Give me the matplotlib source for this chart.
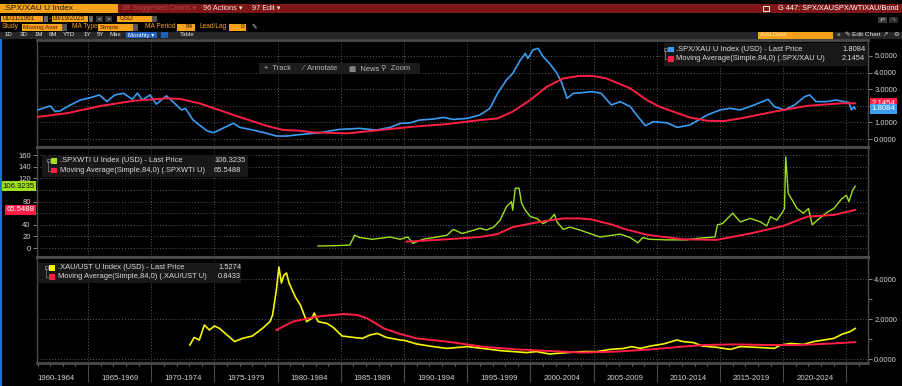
import numpy as np  # для сеток и тиков
import matplotlib.pyplot as plt  # для построения графиков
import matplotlib.transforms as mtrans
from matplotlib.patches import Rectangle

plt.rcParams['font.family'] = ['Liberation Sans', 'DejaVu Sans']

# значения (год в долях года, значение ряда)
spxXauYears = [1961.0, 1962.0, 1962.4, 1962.8, 1963.6, 1964.4, 1965.1, 1965.9, 1966.5, 1967.1,
               1967.8, 1968.5, 1968.9, 1969.3, 1969.9, 1970.4, 1971.2, 1971.7, 1972.4, 1972.7,
               1973.3, 1973.8, 1974.4, 1974.9, 1975.4, 1976.5, 1977.0, 1978.0, 1979.1, 1979.9,
               1980.7, 1981.8, 1983.3, 1984.9, 1986.5, 1987.8, 1988.9, 1989.7, 1990.5, 1991.2,
               1992.3, 1993.1, 1993.9, 1995.0, 1996.0, 1996.8, 1997.4, 1998.1, 1998.6, 1999.2,
               1999.6, 1999.8, 2000.2, 2000.6, 2001.0, 2001.5, 2002.1, 2002.5, 2002.9, 2003.4,
               2004.1, 2004.9, 2005.6, 2006.4, 2007.1, 2007.9, 2008.4, 2009.1, 2009.7, 2010.8,
               2011.6, 2012.6, 2013.3, 2014.0, 2015.0, 2015.8, 2016.6, 2017.7, 2018.8, 2019.3,
               2020.1, 2020.9, 2021.7, 2022.1, 2022.6, 2023.4, 2024.2, 2024.8, 2025.2, 2025.4,
               2025.6, 2025.7]
spxXau = [1.75, 1.99, 1.65, 1.70, 2.05, 2.35, 2.47, 2.65, 2.25, 2.65,
          2.75, 2.40, 2.76, 2.35, 2.65, 2.10, 2.60, 2.25, 1.75, 1.85,
          1.15, 0.85, 0.50, 0.38, 0.55, 0.95, 0.70, 0.55, 0.35, 0.18,
          0.18, 0.27, 0.38, 0.58, 0.64, 0.54, 0.70, 0.94, 0.98, 1.14,
          1.20, 1.30, 1.18, 1.24, 1.45, 1.85, 2.75, 3.55, 3.95, 4.75,
          5.15, 4.85, 5.36, 5.46, 4.96, 4.56, 3.96, 3.35, 2.45, 2.75,
          2.79, 2.85, 2.75, 2.05, 2.25, 1.95, 1.45, 0.80, 1.04, 0.98,
          0.70, 0.84, 1.14, 1.45, 1.75, 1.85, 1.75, 2.05, 2.39, 1.95,
          1.75, 2.05, 2.55, 2.65, 2.25, 2.25, 2.35, 2.25, 2.20, 1.75,
          1.95, 1.8084]

spxXauMaYears = [1961.0, 1963.3, 1966.0, 1968.6, 1971.2, 1972.3, 1973.8, 1976.5, 1979.1, 1980.4,
                 1981.8, 1982.8, 1985.5, 1988.1, 1990.7, 1993.4, 1996.0, 1997.4, 1998.6, 2000.0,
                 2001.3, 2002.6, 2003.9, 2004.9, 2006.0, 2007.9, 2009.2, 2010.2, 2011.3, 2012.6,
                 2014.0, 2015.3, 2016.6, 2019.3, 2021.9, 2024.6, 2025.7]
spxXauMa = [1.33, 1.55, 1.99, 2.30, 2.45, 2.41, 2.15, 1.45, 0.80, 0.55,
            0.50, 0.40, 0.34, 0.54, 0.74, 0.90, 1.14, 1.24, 1.65, 2.35,
            3.15, 3.65, 3.80, 3.80, 3.65, 3.05, 2.35, 1.95, 1.65, 1.30,
            1.10, 1.08, 1.24, 1.65, 2.00, 2.15, 2.1454]

spxWtiYears = [1983.2, 1984.5, 1985.7, 1986.1, 1986.5, 1987.5, 1988.9, 1989.7, 1990.3, 1990.7,
               1991.5, 1992.6, 1993.4, 1993.9, 1994.6, 1995.4, 1996.0, 1996.5, 1997.1, 1997.6,
               1998.1, 1998.5, 1998.6, 1998.8, 1999.1, 1999.3, 1999.6, 2000.0, 2000.5, 2001.0,
               2001.5, 2001.9, 2002.1, 2002.6, 2003.1, 2003.9, 2004.7, 2005.5, 2006.5, 2007.1,
               2007.9, 2008.5, 2008.9, 2009.4, 2010.8, 2012.3, 2013.4, 2014.6, 2014.8, 2015.2,
               2015.6, 2016.0, 2016.6, 2017.4, 2018.2, 2018.7, 2019.0, 2019.5, 2019.9, 2020.1,
               2020.2, 2020.4, 2020.7, 2021.1, 2021.6, 2022.0, 2022.3, 2022.7, 2023.5, 2024.0,
               2024.6, 2025.0, 2025.2, 2025.5, 2025.7]
spxWti = [3.4, 4, 5, 22, 18, 15, 19, 15, 19, 8,
          15, 19, 22, 32, 25, 30, 34, 31, 36, 48,
          71, 80, 65, 103, 103, 77, 65, 54, 51, 42,
          48, 58, 45, 32, 36, 31, 25, 19, 22, 24,
          18, 9, 18, 15, 14, 14, 17, 19, 40, 42,
          51, 60, 45, 51, 45, 38, 54, 48, 60, 68,
          157, 94, 83, 68, 60, 68, 40, 48, 62, 68,
          84, 91, 80, 100, 106.3235]

spxWtiMaYears = [1990.2, 1993.4, 1996.0, 1997.4, 1998.6, 2000.0, 2001.3, 2002.6, 2003.9, 2004.9,
                 2005.6, 2006.5, 2007.4, 2008.3, 2009.2, 2010.2, 2012.1, 2014.7, 2017.4, 2020.0,
                 2021.9, 2024.0, 2025.7]
spxWtiMa = [11, 15, 19, 24, 36, 42, 47, 51, 51, 49,
            45, 40, 33, 28, 23, 20, 15, 14, 25, 38,
            54, 57, 65.5488]

xauUstYears = [1973.05, 1973.4, 1973.8, 1974.2, 1974.6, 1975.0, 1975.4, 1976.0, 1976.6, 1977.2,
               1978.0, 1978.8, 1979.4, 1979.6, 1979.9, 1980.1, 1980.3, 1980.5, 1980.7, 1980.9,
               1981.4, 1981.8, 1982.3, 1982.7, 1982.9, 1983.2, 1983.9, 1984.4, 1985.1, 1986.0,
               1986.7, 1987.3, 1987.9, 1988.6, 1989.7, 1990.1, 1991.0, 1992.3, 1993.4, 1995.0,
               1996.2, 1997.6, 1999.7, 2000.5, 2001.5, 2002.9, 2004.1, 2005.3, 2006.3, 2007.4,
               2008.0, 2008.7, 2009.5, 2010.5, 2011.6, 2012.1, 2012.9, 2013.6, 2014.8, 2015.8,
               2016.6, 2018.0, 2019.3, 2019.8, 2020.6, 2021.6, 2022.4, 2023.2, 2024.0, 2024.7,
               2025.3, 2025.7]
xauUst = [0.70, 1.08, 0.95, 1.70, 1.45, 1.65, 1.53, 1.20, 0.87, 1.03,
          1.15, 1.53, 1.87, 2.20, 3.45, 4.60, 3.80, 4.20, 4.30, 3.80,
          3.10, 2.70, 1.87, 2.03, 2.30, 1.87, 1.78, 1.58, 1.15, 1.08,
          1.03, 1.20, 1.28, 1.08, 0.95, 0.92, 0.75, 0.62, 0.53, 0.62,
          0.53, 0.42, 0.32, 0.37, 0.25, 0.32, 0.37, 0.37, 0.48, 0.53,
          0.62, 0.53, 0.65, 0.75, 0.95, 0.87, 0.82, 0.65, 0.58, 0.48,
          0.62, 0.58, 0.53, 0.70, 0.78, 0.73, 0.87, 0.95, 1.03, 1.25,
          1.37, 1.5274]

xauUstMaYears = [1979.9, 1981.2, 1983.1, 1985.2, 1986.3, 1987.1, 1988.4, 1989.7, 1991.0, 1993.4,
                 1996.2, 1998.9, 2001.5, 2004.1, 2006.8, 2009.5, 2012.1, 2013.7, 2016.1, 2018.8,
                 2021.3, 2024.0, 2025.7]
xauUstMa = [1.45, 1.87, 2.12, 2.25, 2.20, 2.03, 1.53, 1.25, 1.03, 0.87,
            0.62, 0.48, 0.40, 0.32, 0.37, 0.48, 0.62, 0.70, 0.73, 0.70,
            0.70, 0.78, 0.8433]

xLabels = ['1960-1964', '1965-1969', '1970-1974', '1975-1979', '1980-1984', '1985-1989',
           '1990-1994', '1995-1999', '2000-2004', '2005-2009', '2010-2014', '2015-2019',
           '2020-2024']

W, H = 902, 386
ORANGE = '#f7a21b'
BLUE = '#3a9cf2'
RED = '#ff1f45'
GREEN = '#9ee01a'
YELLOW = '#f6f600'
GRID = '#5a5a5a'
LIGHT = '#d2d2d2'


# перевод пиксельного прямоугольника в координаты фигуры
def pxRect(left, top, right, bottom):
    return [left / W, 1 - bottom / H, (right - left) / W, (bottom - top) / H]


fig = plt.figure(figsize=(W / 100, H / 100), dpi=100, facecolor='black')

ax1 = fig.add_axes(pxRect(37, 40, 868, 147))
ax2 = fig.add_axes(pxRect(37, 147, 868, 257))
ax3 = fig.add_axes(pxRect(37, 257, 868, 363))


# общее оформление панели
def styleAxes(ax, ylim):
    ax.set_facecolor('black')
    ax.set_xlim(1960.96, 2026.71)
    ax.set_ylim(*ylim)
    ax.set_xticks(np.arange(1965, 2026, 5))
    ax.grid(True, which='major', color=GRID, ls=(0, (1, 2)), lw=0.7)
    for s in ax.spines.values():
        s.set_color('#4a4a4a')
        s.set_linewidth(1)
    ax.spines['top'].set_linewidth(2)
    ax.spines['bottom'].set_linewidth(2)
    ax.tick_params(axis='x', length=0, labelbottom=False)
    ax.tick_params(axis='y', colors='#9a9a9a', labelcolor=LIGHT, labelsize=5.5,
                   length=3, width=0.6, pad=1.5)


# подписи делений; те, что закрыты ценниками, пустые
def tickLabels(ax, ticks, fmt, hidden):
    ax.set_yticks(ticks)
    ax.set_yticklabels(['' if t in hidden else fmt.format(t) for t in ticks])


# ценник последнего значения у оси
def tag(ax, val, color, textColor, side='right'):
    tr = mtrans.blended_transform_factory(ax.transAxes, ax.transData)
    x, ha = (1.004, 'left') if side == 'right' else (-0.003, 'right')
    ax.text(x, val, f'{val:.4f}', transform=tr, ha=ha, va='center', fontsize=5.6,
            color=textColor, clip_on=False, zorder=6,
            bbox=dict(boxstyle='square,pad=0.2', fc=color, ec='none'))


# верхняя панель: SPX/XAU
styleAxes(ax1, (-0.48, 5.96))
ax1.plot(spxXauYears, spxXau, color=BLUE, lw=1.2, zorder=3)
ax1.plot(spxXauMaYears, spxXauMa, color=RED, lw=1.4, zorder=4)
ax1.yaxis.tick_right()
tickLabels(ax1, [0, 1, 2, 3, 4, 5], '{:.4f}', [2])
tag(ax1, spxXauMa[-1], RED, '#ffffff')
tag(ax1, spxXau[-1], BLUE, '#ffffff')

# средняя панель: SPX/WTI
styleAxes(ax2, (-15.5, 174))
ax2.plot(spxWtiYears, spxWti, color=GREEN, lw=1.0, zorder=3)
ax2.plot(spxWtiMaYears, spxWtiMa, color=RED, lw=1.4, zorder=4)
tickLabels(ax2, [0, 20, 40, 60, 80, 100, 120, 140, 160], '{}', [60, 100])
tag(ax2, spxWti[-1], GREEN, '#111111', side='left')
tag(ax2, spxWtiMa[-1], RED, '#ffffff', side='left')

# нижняя панель: XAU/UST
styleAxes(ax3, (-0.2, 5.1))
ax3.plot(xauUstYears, xauUst, color=YELLOW, lw=1.2, zorder=3)
ax3.plot(xauUstMaYears, xauUstMa, color=RED, lw=1.4, zorder=4)
ax3.yaxis.tick_right()
tickLabels(ax3, [0, 2, 4], '{:.4f}', [])
ax3.set_yticks([1, 3], minor=True)
ax3.tick_params(axis='y', which='minor', colors='#9a9a9a', length=3, width=0.6)
ax3.set_xticks(np.arange(1961, 2027), minor=True)
ax3.tick_params(axis='x', which='major', length=14, color='#4a4a4a', width=0.8)
ax3.tick_params(axis='x', which='minor', length=2, color='#8a8a8a', width=0.6)
trLab = mtrans.blended_transform_factory(ax3.transData, fig.transFigure)
for i, lab in enumerate(xLabels):
    ax3.text(1962.5 + 5 * i, 1 - 378 / H, lab, transform=trLab, ha='center', va='center',
             color=LIGHT, fontsize=5.6, clip_on=False)

# слой интерфейса в пикселях
ov = fig.add_axes([0, 0, 1, 1])
ov.set_xlim(0, W)
ov.set_ylim(H, 0)
ov.axis('off')
ov.set_zorder(10)


def box(x0, y0, x1, y1, color, **kw):
    ov.add_patch(Rectangle((x0, y0), x1 - x0, y1 - y0, facecolor=color, edgecolor='none', **kw))


def txt(x, y, s, color, size=5.0, **kw):
    ov.text(x, y, s, color=color, fontsize=size, va='center', **kw)


# строка 1: заголовок
box(0, 3.5, 118, 13, ORANGE)
txt(3, 8.4, '.SPX/XAU U Index', '#1a1a1a', 6.0)
box(118, 3.5, W, 13, '#7e1616')
txt(122, 8.4, '98 Suggested Charts \u25be', '#b04545', 5.3)
txt(203, 8.4, '96 Actions \u25be', '#f2dede', 5.3)
txt(252, 8.4, '97 Edit \u25be', '#f2dede', 5.3)
ov.add_patch(Rectangle((763, 5.5), 5.5, 5.5, facecolor='none', edgecolor='#f0f0f0', lw=0.7))
txt(899, 8.4, 'G 447: SPX/XAUSPX/WTIXAU/Bond', '#ffffff', 5.3, ha='right')

# строка 2: даты и валюта
box(1, 15.5, 43, 22, ORANGE)
txt(2.5, 18.9, '01/31/1961', '#2a1a00', 4.7)
box(44, 16, 48, 21.5, '#6a6a6a')
txt(48.8, 18.9, '-', ORANGE, 4.7)
box(52, 15.5, 88, 22, ORANGE)
txt(53, 18.9, '09/19/2025', '#2a1a00', 4.7)
box(89, 16, 93, 21.5, '#6a6a6a')
box(96, 16, 103, 21.5, '#333333')
txt(97.8, 18.9, '<', '#e0e0e0', 4.5)
box(105, 16, 112, 21.5, '#333333')
txt(106.8, 18.9, '>', '#e0e0e0', 4.5)
box(117, 15.5, 152, 22, ORANGE)
txt(119, 18.9, 'USD', '#2a1a00', 4.7)
box(152, 15.5, 157, 22, '#555555')
box(878, 16.5, 887, 23, '#3a3a3a')
box(889, 16.5, 898, 23, '#2a2a2a')
txt(879.5, 19.8, '\u21b6', '#d0d0d0', 4.5)
txt(890.5, 19.8, '\u21b7', '#808080', 4.5)

# строка 3: параметры скользящей средней
txt(2, 27, 'Study', ORANGE, 4.8)
box(22, 23.5, 62, 30.5, ORANGE)
txt(23, 27, 'Moving Aver', '#5a1a00', 4.6)
box(62, 23.5, 67, 30.5, '#555555')
txt(72, 27, 'MA Type', ORANGE, 4.8)
box(98, 23.5, 133, 30.5, ORANGE)
txt(100, 27, 'Simple', '#5a1a00', 4.6)
box(133, 23.5, 138, 30.5, '#555555')
txt(145, 27, 'MA Period', ORANGE, 4.8)
box(177, 23.5, 195, 30.5, ORANGE)
txt(193, 27, '84', '#2a1a00', 4.6, ha='right')
txt(199, 27, 'Lead/Lag', ORANGE, 4.8)
box(229, 23.5, 246, 30.5, ORANGE)
txt(244, 27, '0', '#2a1a00', 4.6, ha='right')
txt(251, 27, '\u270e', '#d0d0d0', 4.8)

# строка 4: период и кнопки
box(0, 31.5, W, 38.5, '#262626')
for x, s in [(5, '1D'), (20, '3D'), (35, '1M'), (49, '6M'), (63, 'YTD'),
             (84, '1Y'), (97, '5Y'), (110, 'Max'), (180, 'Table')]:
    txt(x, 35, s, '#e8e8e8', 4.4)
box(126, 32, 157, 38, '#1f5fc0')
txt(128, 35, 'Monthly \u25be', '#ffffff', 4.4)
box(161, 32, 168, 38, '#1f5fc0')
box(758, 32, 833, 38.5, ORANGE)
txt(760, 35, 'Add Data', '#ffe2b5', 4.6)
txt(837, 35, '\u00ab', '#e0e0e0', 4.8)
txt(845, 35, '\u270e Edit Chart', '#e8e8e8', 4.6)
txt(882, 35, '\u2197', '#e0e0e0', 4.6)
txt(893, 35, '\u2699', '#e0e0e0', 4.6)

# синяя полоса слева
ov.plot([0.8, 0.8], [40, H], color='#1f6fd0', lw=1.5)

# панель инструментов графика
box(259, 63, 420, 74, '#1e1e1e', alpha=0.95)
for x, s in [(264, '+  Track'), (303, '\u2215  Annotate'), (349, '\u25a6  News'), (381, '\u26b2  Zoom')]:
    txt(x, 68.5, s, '#b8b8b8', 5.4)


# легенда панели
def legendBox(x0, y0, x1, y1, rowYs, sqX, textX, valX, entries):
    box(x0, y0, x1, y1, '#1b1b1b', alpha=0.92)
    ov.plot([sqX - 3, sqX - 3], [rowYs[0], rowYs[1]], color='#8a8a8a', lw=0.5)
    ov.plot([sqX - 3, sqX - 1], [rowYs[1], rowYs[1]], color='#8a8a8a', lw=0.5)
    ov.add_patch(Rectangle((sqX - 4.5, rowYs[0] - 2), 3, 3, facecolor='none', edgecolor='#8a8a8a', lw=0.5))
    for y, (color, label, value) in zip(rowYs, entries):
        box(sqX, y - 2.8, sqX + 5.5, y + 2.8, color)
        txt(textX, y, label, '#dcdcdc', 5.4)
        txt(valX, y, f'{value:.4f}', '#dcdcdc', 5.4)


legendBox(664, 43, 868, 66, [49.5, 59], 668, 676, 842,
          [(BLUE, '.SPX/XAU U Index (USD) - Last Price', spxXau[-1]),
           (RED, 'Moving Average(Simple,84,0) (.SPX/XAU U)', spxXauMa[-1])])
legendBox(42, 155, 248, 177, [160.7, 170.5], 51, 60, 214,
          [(GREEN, '.SPXWTI U Index (USD) - Last Price', spxWti[-1]),
           (RED, 'Moving Average(Simple,84,0) (.SPXWTI U)', spxWtiMa[-1])])
legendBox(38, 263, 241, 283, [267.7, 277], 49, 58, 218,
          [(YELLOW, '.XAU/UST U Index (USD) - Last Price', xauUst[-1]),
           (RED, 'Moving Average(Simple,84,0) (.XAU/UST U)', xauUstMa[-1])])

fig.savefig('out.png', dpi=100, facecolor='black')
